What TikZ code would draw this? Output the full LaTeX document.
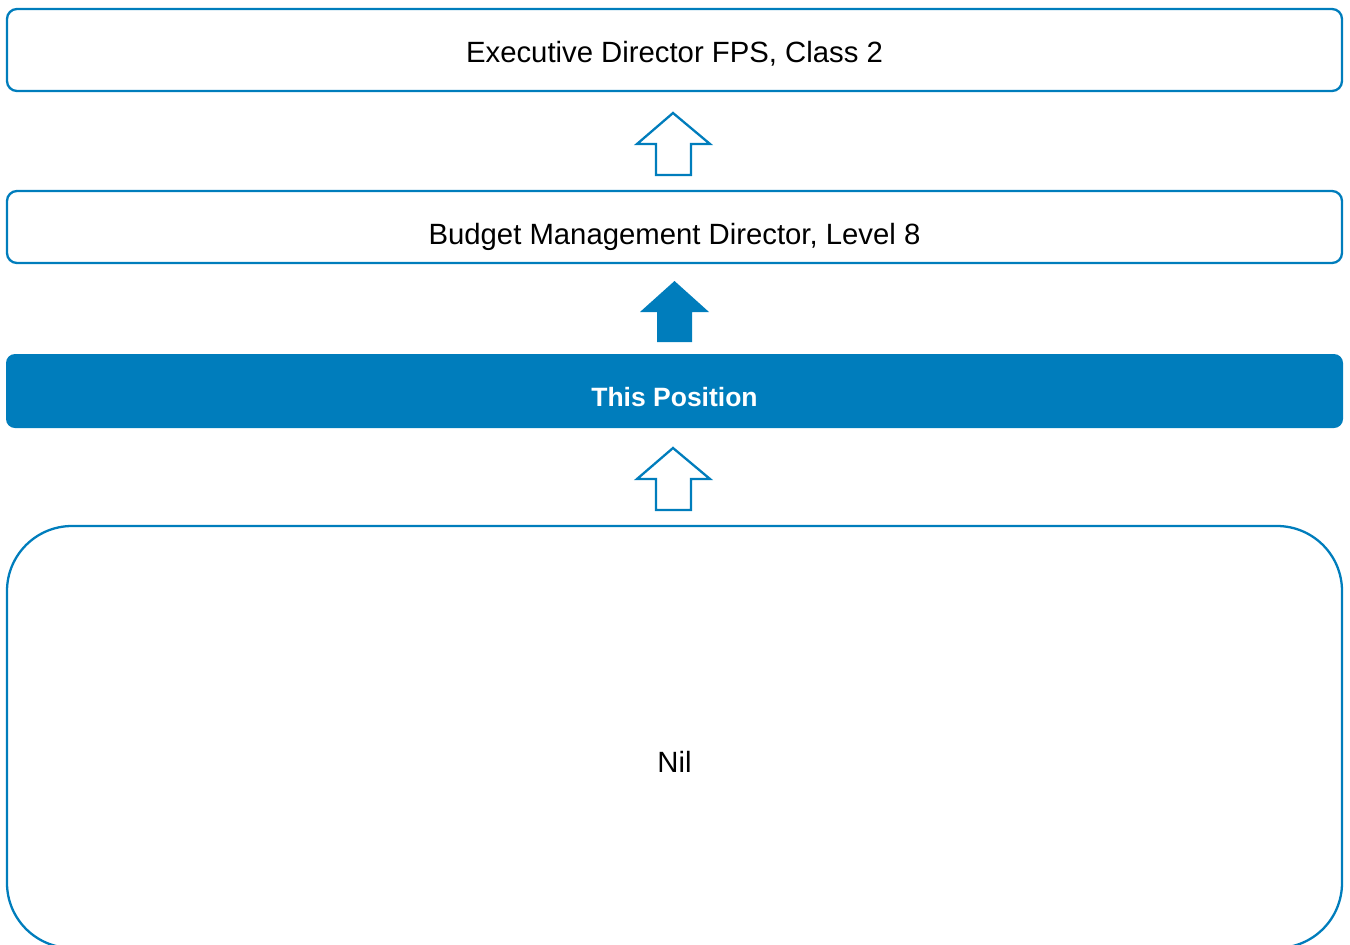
\documentclass[tikz,border=0pt]{standalone}
\usepackage{fontspec}
\setmainfont{Liberation Sans}
\definecolor{blu}{RGB}{0,125,188}
\begin{document}
\begin{tikzpicture}[x=1pt,y=-1pt,
  box/.style={draw=blu,line width=2.3pt},
  lbl/.style={font=\fontsize{29.3}{34}\selectfont,text=black,inner sep=0pt},
  uparrow/.style={draw=blu,line width=2.3pt,line join=miter,fill=white},
  uparrowf/.style={fill=blu,draw=none}]
\useasboundingbox (0,0) rectangle (1350,945);
% boxes
\draw[box,rounded corners=10pt] (7,9) rectangle (1342,91);
\node[lbl] (exec) at (674.5,54) {Executive Director FPS, Class 2};
\draw[box,rounded corners=10pt] (7,191) rectangle (1342,263);
\node[lbl] (bud) at (674.5,237) {Budget Management Director, Level 8};
\fill[blu,rounded corners=9pt] (6,354) rectangle (1343,428);
\node[lbl,text=white,font=\fontsize{26.5}{32}\selectfont\bfseries] (pos) at (674.5,397) {This Position};
\draw[box,rounded corners=65pt] (7,526) rectangle (1342,948);
\node[lbl] (nil) at (674.5,762) {Nil};
% arrows
\draw[uparrow] (673,113) -- (710,144) -- (691,144) -- (691,175) -- (656,175) -- (656,144) -- (637,144) -- cycle;
\fill[blu] (674.5,281) -- (709,312) -- (692,312) -- (692,342) -- (657,342) -- (657,312) -- (640,312) -- cycle;
\draw[uparrow] (673,448) -- (710,479) -- (691,479) -- (691,510) -- (656,510) -- (656,479) -- (637,479) -- cycle;
\end{tikzpicture}
\end{document}
